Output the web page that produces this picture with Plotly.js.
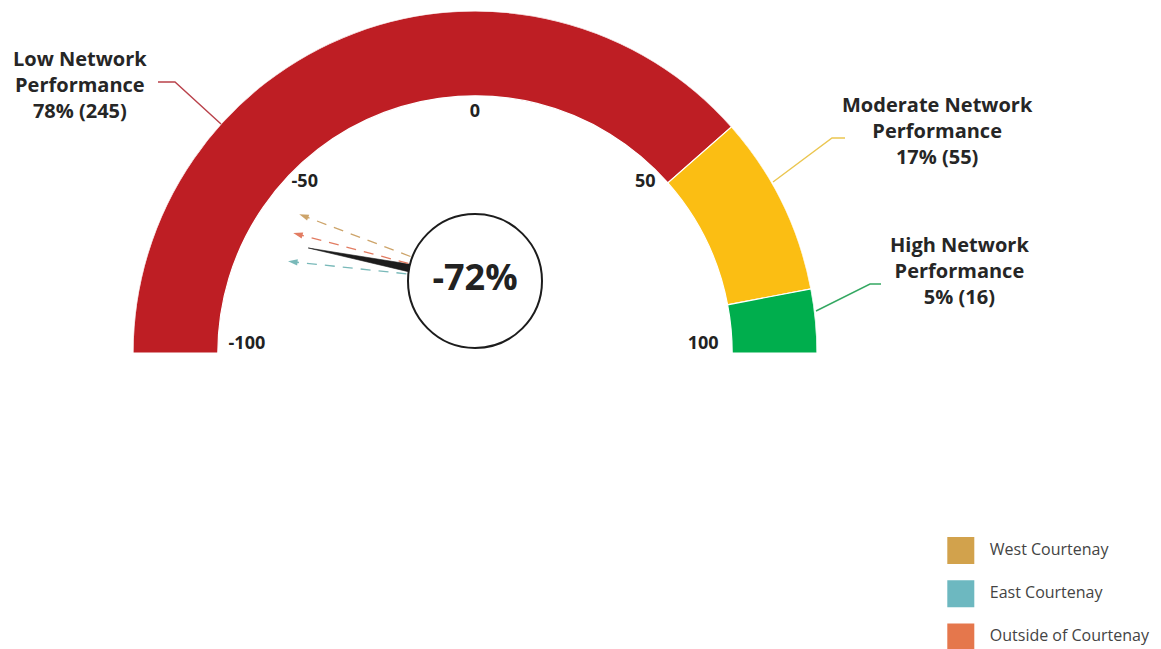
<!DOCTYPE html>
<html>
<head>
<meta charset="utf-8">
<script src="https://cdn.plot.ly/plotly-3.0.1.min.js"></script>
<style>
  html, body { margin: 0; padding: 0; background: #ffffff; }
  #chart { width: 1161px; height: 649px; }
</style>
</head>
<body>
<div id="chart"></div>
<script>
// ---------- data ----------
const categories = ['Low', 'Moderate', 'High'];
const shares = [78, 17, 5];
const counts = [245, 55, 16];
const bandEdges = [-100, 54, 88, 100];          // gauge band boundaries as drawn
const bandColors = ['#BE1E24', '#FBBE13', '#00AE4D'];
const leaderColors = ['#B9414A', '#EBC650', '#35A862'];
const tickVals = [-100, -50, 0, 50, 100];
const overallScore = -72;
const regions = ['West Courtenay', 'East Courtenay', 'Outside of Courtenay'];
const regionScores = [-48, -85, -63];
const regionColors = ['#D2A24C', '#6DB8C0', '#E5774C'];
const arrowColors = ['#CDA46A', '#79B9B9', '#E27C62'];

// ---------- helpers ----------
const W = 1161, H = 649;
const px = x => x / W;
const py = y => 1 - y / H;
const GMIN = -100, GMAX = 100;
const gaugeTheta = v => (v - GMIN) / (GMAX - GMIN) * 180;
const needleTheta = v => (v - GMIN) * 0.4;
const INNER = 0.752;
const FONT = 'Open Sans, Noto Sans, sans-serif';

const traces = [];

// gauge bands
const mids = [], spans = [];
for (let i = 0; i < categories.length; i++) {
  const a = gaugeTheta(bandEdges[i]), b = gaugeTheta(bandEdges[i + 1]);
  mids.push((a + b) / 2); spans.push(b - a);
}
traces.push({
  type: 'barpolar', subplot: 'polar',
  theta: mids, width: spans,
  r: categories.map(() => 1 - INNER), base: categories.map(() => INNER),
  marker: { color: bandColors, line: { color: '#ffffff', width: 1.2 } },
  hoverinfo: 'skip', showlegend: false
});

// tick labels
traces.push({
  type: 'scatterpolar', subplot: 'polar', mode: 'text',
  theta: tickVals.map(gaugeTheta),
  r: tickVals.map(v => (v === GMIN || v === GMAX) ? 0.667 : 0.704),
  text: tickVals.map(String),
  textposition: tickVals.map(v => (v === GMIN || v === GMAX) ? 'top center' : 'middle center'),
  textfont: { family: FONT, size: 18, color: '#222222', weight: 'bold' },
  cliponaxis: false, hoverinfo: 'skip', showlegend: false
});

// needle
const nt = needleTheta(overallScore);
traces.push({
  type: 'scatterpolar', subplot: 'polar2', mode: 'lines',
  r: [62, 170, 62, 62], theta: [nt - 3.7, nt, nt + 3.7, nt - 3.7],
  fill: 'toself', fillcolor: '#1c1c1c', line: { color: '#1c1c1c', width: 0.6 },
  hoverinfo: 'skip', showlegend: false
});

// region arrows
regions.forEach((name, i) => {
  const t = needleTheta(regionScores[i]);
  traces.push({
    type: 'scatterpolar', subplot: 'polar2', mode: 'lines',
    r: [69, 182], theta: [t, t],
    line: { color: arrowColors[i], width: 1.3, dash: '10px,8px' },
    hoverinfo: 'skip', showlegend: false
  });
  traces.push({
    type: 'scatterpolar', subplot: 'polar2', mode: 'markers',
    r: [188], theta: [t],
    marker: { symbol: 'arrow', size: 10, color: arrowColors[i], angle: t - 90, line: { width: 0 } },
    cliponaxis: false, hoverinfo: 'skip', showlegend: false
  });
});

// centre circle with score
traces.push({
  type: 'scatterpolar', subplot: 'polar2', mode: 'markers+text',
  r: [0], theta: [0],
  marker: { size: 134, color: '#ffffff', line: { color: '#1c1c1c', width: 2 } },
  text: [overallScore + '%'], textposition: 'middle center',
  textfont: { family: FONT, size: 36, color: '#222222', weight: 'bold' },
  cliponaxis: false, hoverinfo: 'skip', showlegend: false
});

// custom legend
traces.push({
  type: 'scatter', xaxis: 'x', yaxis: 'y', mode: 'markers',
  x: regions.map(() => 32), y: regions,
  marker: { symbol: 'square', size: 27, color: regionColors, line: { width: 0 } },
  hoverinfo: 'skip', showlegend: false
});
traces.push({
  type: 'scatter', xaxis: 'x', yaxis: 'y', mode: 'text',
  x: regions.map(() => 61), y: regions, text: regions,
  textposition: 'middle right',
  textfont: { family: FONT, size: 16, color: '#444444' },
  cliponaxis: false, hoverinfo: 'skip', showlegend: false
});

// ---------- labels ----------
const labelPos = [[80, 85], [937, 130], [959, 270]];
const annotations = categories.map((c, i) => ({
  xref: 'paper', yref: 'paper', x: px(labelPos[i][0]), y: py(labelPos[i][1]),
  xanchor: 'center', yanchor: 'middle', align: 'center', showarrow: false,
  text: `${c} Network<br>Performance<br>${shares[i]}% (${counts[i]})`,
  font: { family: FONT, size: 20, color: '#262626', weight: 'bold' }
}));

const leaderPaths = [
  [[158, 82], [175, 82], [221, 124]],
  [[773, 182], [832, 138], [845, 138]],
  [[816, 311], [870, 284], [881, 284]]
];
const shapes = leaderPaths.map((pts, i) => ({
  type: 'path', xref: 'paper', yref: 'paper',
  path: pts.map((p, j) => (j ? 'L' : 'M') + px(p[0]) + ',' + py(p[1])).join(' '),
  line: { color: leaderColors[i], width: 1.4 }
}));

const layout = {
  width: W, height: H,
  margin: { l: 0, r: 0, t: 0, b: 0 },
  paper_bgcolor: '#ffffff', plot_bgcolor: 'rgba(0,0,0,0)',
  showlegend: false,
  polar: {
    domain: { x: [px(133), px(817)], y: [py(353), py(11)] },
    sector: [0, 180], bgcolor: 'rgba(0,0,0,0)',
    radialaxis: { visible: false, range: [0, 1] },
    angularaxis: { visible: false, rotation: 180, direction: 'clockwise', thetaunit: 'degrees' }
  },
  polar2: {
    domain: { x: [px(275), px(675)], y: [py(481), py(81)] },
    bgcolor: 'rgba(0,0,0,0)',
    radialaxis: { visible: false, range: [0, 200] },
    angularaxis: { visible: false, rotation: 180, direction: 'clockwise', thetaunit: 'degrees' }
  },
  xaxis: { domain: [0.8, 1], range: [0, 232.2], visible: false, fixedrange: true },
  yaxis: { domain: [0, py(529)], type: 'category', categoryarray: regions, categoryorder: 'array',
           range: [2.28, -0.5], visible: false, fixedrange: true },
  annotations: annotations,
  shapes: shapes
};

Plotly.newPlot('chart', traces, layout, { staticPlot: true, displayModeBar: false });
</script>
</body>
</html>
